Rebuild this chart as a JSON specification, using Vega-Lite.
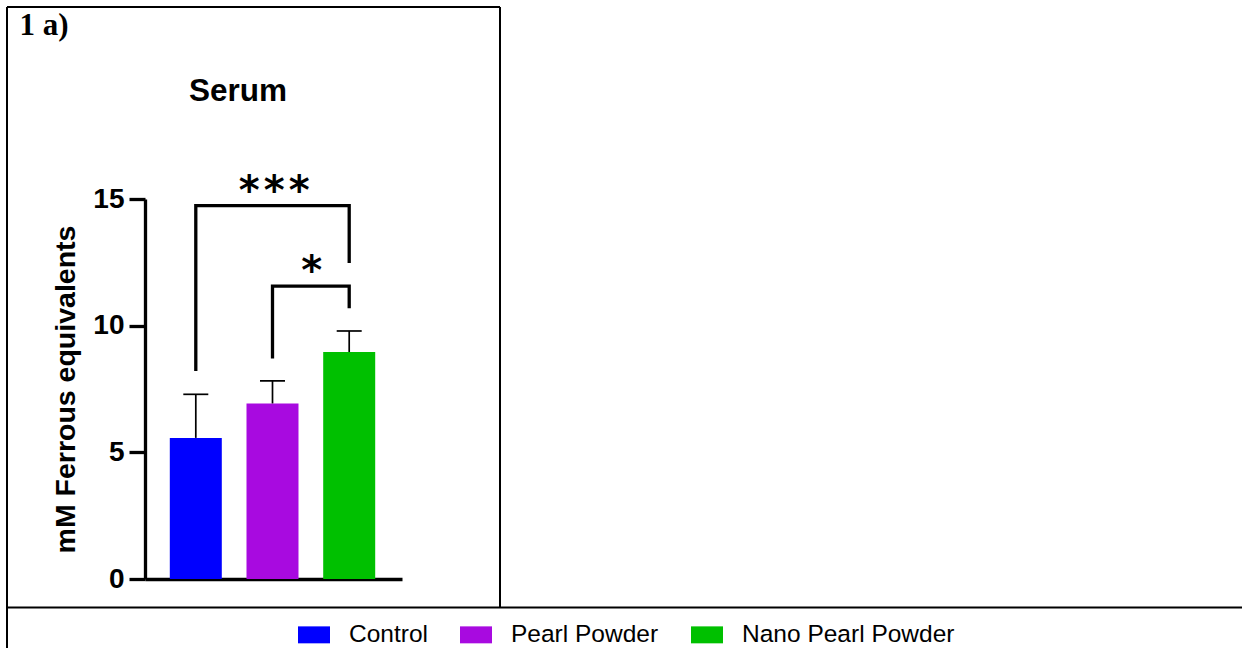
{
  "$schema": "https://vega.github.io/schema/vega-lite/v6.json",
  "width": 257,
  "height": 380,
  "autosize": {"type": "none"},
  "padding": {"left": 145, "top": 199, "right": 840, "bottom": 69},
  "background": "white",
  "config": {"view": {"stroke": null}, "font": "Liberation Sans"},
  "datasets": {
    "bars": [
      {"group": "Control", "pos": 1, "mean": 5.57, "upper": 7.29},
      {"group": "Pearl Powder", "pos": 2, "mean": 6.93, "upper": 7.82},
      {"group": "Nano Pearl Powder", "pos": 3, "mean": 8.96, "upper": 9.79}
    ],
    "brackets": [
      {"b": "A", "k": 1, "pos": 1, "v": 8.21},
      {"b": "A", "k": 2, "pos": 1, "v": 14.74},
      {"b": "A", "k": 3, "pos": 3, "v": 14.74},
      {"b": "A", "k": 4, "pos": 3, "v": 12.47},
      {"b": "B", "k": 1, "pos": 2, "v": 8.70},
      {"b": "B", "k": 2, "pos": 2, "v": 11.56},
      {"b": "B", "k": 3, "pos": 3, "v": 11.56},
      {"b": "B", "k": 4, "pos": 3, "v": 10.69}
    ],
    "stars": [
      {"label": "*\u200a*\u200a*", "pos": 2.022, "v": 14.80},
      {"label": "*", "pos": 2.511, "v": 11.64}
    ],
    "one": [{}]
  },
  "layer": [
    {
      "data": {"name": "one"},
      "mark": {"type": "rule", "strokeWidth": 2, "color": "black"},
      "encoding": {
        "x": {"datum": -1.4615, "type": "quantitative", "scale": {"domain": [0.3377, 3.6884], "nice": false, "zero": false, "padding": 0}},
        "y": {"datum": 22.579, "type": "quantitative", "scale": {"domain": [0, 15], "nice": false, "zero": false, "padding": 0}},
        "y2": {"datum": -3.2}
      }
    },
    {
      "data": {"name": "one"},
      "mark": {"type": "rule", "strokeWidth": 2, "color": "black"},
      "encoding": {
        "x": {"datum": -1.4615, "type": "quantitative", "scale": {"domain": [0.3377, 3.6884], "nice": false, "zero": false, "padding": 0}},
        "x2": {"datum": 4.9661},
        "y": {"datum": 22.579, "type": "quantitative", "scale": {"domain": [0, 15], "nice": false, "zero": false, "padding": 0}}
      }
    },
    {
      "data": {"name": "one"},
      "mark": {"type": "rule", "strokeWidth": 2, "color": "black"},
      "encoding": {
        "x": {"datum": 4.9661, "type": "quantitative", "scale": {"domain": [0.3377, 3.6884], "nice": false, "zero": false, "padding": 0}},
        "y": {"datum": 22.579, "type": "quantitative", "scale": {"domain": [0, 15], "nice": false, "zero": false, "padding": 0}},
        "y2": {"datum": -1.125}
      }
    },
    {
      "data": {"name": "one"},
      "mark": {"type": "rule", "strokeWidth": 2, "color": "black"},
      "encoding": {
        "x": {"datum": -1.4615, "type": "quantitative", "scale": {"domain": [0.3377, 3.6884], "nice": false, "zero": false, "padding": 0}},
        "x2": {"datum": 14.75},
        "y": {"datum": -1.125, "type": "quantitative", "scale": {"domain": [0, 15], "nice": false, "zero": false, "padding": 0}}
      }
    },
    {
      "data": {"name": "bars"},
      "mark": {"type": "bar", "size": 52, "orient": "vertical"},
      "encoding": {
        "x": {
          "field": "pos", "type": "quantitative",
          "scale": {"domain": [0.3377, 3.6884], "nice": false, "zero": false, "padding": 0},
          "axis": {"title": null, "labels": false, "ticks": false, "grid": false, "domainWidth": 3.3, "domainColor": "black"}
        },
        "y": {
          "field": "mean", "type": "quantitative",
          "scale": {"domain": [0, 15], "nice": false, "zero": false, "padding": 0},
          "axis": {
            "values": [0, 5, 10, 15], "title": "mM Ferrous equivalents",
            "titleFont": "Liberation Sans", "titleFontSize": 28.5, "titleFontWeight": "bold", "titleColor": "black", "titlePadding": 12,
            "labelFont": "Liberation Sans", "labelFontSize": 28, "labelFontWeight": "bold", "labelColor": "black", "labelPadding": 5,
            "labelOverlap": false, "labelFlush": false,
            "tickSize": 16, "tickWidth": 3.3, "tickColor": "black",
            "domainWidth": 3.3, "domainColor": "black", "grid": false
          }
        },
        "color": {
          "field": "group", "type": "nominal",
          "scale": {"domain": ["Control", "Pearl Powder", "Nano Pearl Powder"], "range": ["#0000FF", "#A80AE0", "#00C000"]},
          "legend": {
            "orient": "none", "direction": "horizontal", "legendX": 153, "legendY": 419.6, "title": null,
            "symbolType": "M-1,-0.53L1,-0.53L1,0.53L-1,0.53Z", "symbolSize": 1024, "symbolStrokeWidth": 0, "symbolOpacity": 1,
            "labelFont": "Liberation Sans", "labelFontSize": 24.5, "labelColor": "black", "labelOffset": 19, "labelLimit": 0,
            "columnPadding": 32, "padding": 0
          }
        }
      }
    },
    {
      "data": {"name": "bars"},
      "mark": {"type": "rule", "strokeWidth": 1.7, "color": "black"},
      "encoding": {
        "x": {"field": "pos", "type": "quantitative", "scale": {"domain": [0.3377, 3.6884], "nice": false, "zero": false, "padding": 0}},
        "y": {"field": "mean", "type": "quantitative", "scale": {"domain": [0, 15], "nice": false, "zero": false, "padding": 0}},
        "y2": {"field": "upper"}
      }
    },
    {
      "data": {"name": "bars"},
      "mark": {"type": "tick", "orient": "horizontal", "size": 25, "thickness": 1.7, "color": "black", "opacity": 1},
      "encoding": {
        "x": {"field": "pos", "type": "quantitative", "scale": {"domain": [0.3377, 3.6884], "nice": false, "zero": false, "padding": 0}},
        "y": {"field": "upper", "type": "quantitative", "scale": {"domain": [0, 15], "nice": false, "zero": false, "padding": 0}}
      }
    },
    {
      "data": {"name": "brackets"},
      "mark": {"type": "line", "strokeWidth": 3.3, "color": "black", "strokeJoin": "miter", "strokeCap": "butt"},
      "encoding": {
        "x": {"field": "pos", "type": "quantitative", "scale": {"domain": [0.3377, 3.6884], "nice": false, "zero": false, "padding": 0}},
        "y": {"field": "v", "type": "quantitative", "scale": {"domain": [0, 15], "nice": false, "zero": false, "padding": 0}},
        "detail": {"field": "b", "type": "nominal"},
        "order": {"field": "k", "type": "quantitative"}
      }
    },
    {
      "data": {"name": "stars"},
      "mark": {"type": "text", "font": "DejaVu Sans", "fontWeight": "bold", "fontSize": 40, "align": "center", "baseline": "alphabetic", "color": "black"},
      "encoding": {
        "x": {"field": "pos", "type": "quantitative", "scale": {"domain": [0.3377, 3.6884], "nice": false, "zero": false, "padding": 0}},
        "y": {"field": "v", "type": "quantitative", "scale": {"domain": [0, 15], "nice": false, "zero": false, "padding": 0}},
        "text": {"field": "label"}
      }
    },
    {
      "data": {"name": "one"},
      "mark": {"type": "text", "font": "Liberation Sans", "fontWeight": "bold", "fontSize": 31.5, "align": "center", "baseline": "alphabetic", "color": "black"},
      "encoding": {
        "x": {"datum": 1.55, "type": "quantitative", "scale": {"domain": [0.3377, 3.6884], "nice": false, "zero": false, "padding": 0}},
        "y": {"datum": 18.87, "type": "quantitative", "scale": {"domain": [0, 15], "nice": false, "zero": false, "padding": 0}},
        "text": {"value": "Serum"}
      }
    },
    {
      "data": {"name": "one"},
      "mark": {"type": "text", "font": "Liberation Serif", "fontWeight": "bold", "fontSize": 31, "align": "left", "baseline": "alphabetic", "color": "black"},
      "encoding": {
        "x": {"datum": -1.2986, "type": "quantitative", "scale": {"domain": [0.3377, 3.6884], "nice": false, "zero": false, "padding": 0}},
        "y": {"datum": 21.47, "type": "quantitative", "scale": {"domain": [0, 15], "nice": false, "zero": false, "padding": 0}},
        "text": {"value": "1 a)"}
      }
    }
  ]
}
